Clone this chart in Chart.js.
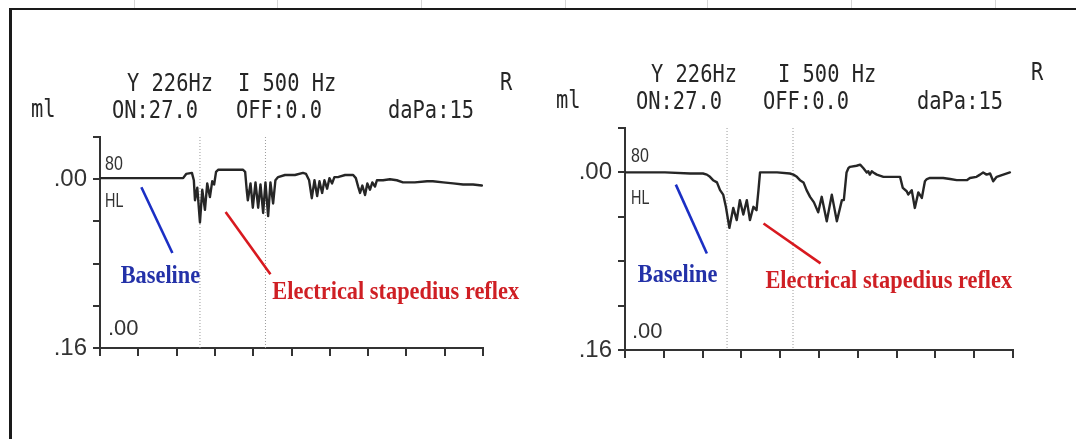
<!DOCTYPE html>
<html>
<head>
<meta charset="utf-8">
<script src="https://cdn.jsdelivr.net/npm/chart.js@4.4.1/dist/chart.umd.min.js"></script>
<style>
  html, body { margin: 0; padding: 0; background: #fff; }
  #page { position: relative; width: 1076px; height: 439px; overflow: hidden; background: #fff; }
  #page canvas { position: absolute; left: 0; top: 0; }
  .frame { position: absolute; left: 9px; top: 8px; width: 1100px; height: 470px;
           border-top: 2px solid #1a1a1a; border-left: 3px solid #1a1a1a; }
  .scan { position: absolute; top: 0; width: 1px; height: 8px; background: #d6d6d6; }
</style>
</head>
<body>
<div id="page">
  <div class="frame"></div>
  <div class="scan" style="left:134px"></div>
  <div class="scan" style="left:277px"></div>
  <div class="scan" style="left:421px"></div>
  <div class="scan" style="left:565px"></div>
  <div class="scan" style="left:707px"></div>
  <div class="scan" style="left:851px"></div>
  <div class="scan" style="left:995px"></div>
  <canvas id="leftChart" width="1076" height="439"></canvas>
  <canvas id="rightChart" width="1076" height="439"></canvas>
</div>
<script>
// eje x: 10 divisiones de tiempo, eje y: compliancia en ml (.00 arriba, .16 abajo)
const xTicks = [0, 1, 2, 3, 4, 5, 6, 7, 8, 9, 10];
const yTicks = [-0.04, 0, 0.04, 0.08, 0.12, 0.16];
const yTickLabels = ['', '.00', '', '', '', '.16'];

const headerTexts = ['Y 226Hz', 'I 500 Hz', 'R', 'ml', 'ON:27.0', 'OFF:0.0', 'daPa:15'];
const innerTexts = ['80', 'HL', '.00'];
const baselineText = 'Baseline';
const reflexText = 'Electrical stapedius reflex';

// panel izquierdo
const leftTime = [0, 2.17, 2.25, 2.40, 2.45, 2.48, 2.54, 2.61, 2.67, 2.74, 2.80, 2.87, 2.93, 2.98, 3.03,
  3.09, 3.73, 3.79, 3.83, 3.86, 3.93, 3.99, 4.06, 4.13, 4.19, 4.26, 4.32, 4.39, 4.45, 4.52, 4.58, 4.65, 4.83,
  5.09, 5.30, 5.38, 5.46, 5.53, 5.60, 5.67, 5.73, 5.80, 5.86, 5.93, 5.99, 6.06, 6.12, 6.21, 6.40, 6.61, 6.68,
  6.74, 6.79, 6.85, 6.92, 6.98, 7.05, 7.11, 7.18, 7.23, 7.39, 7.57, 7.75, 7.91, 8.22, 8.54, 8.69, 8.96, 9.22,
  9.48, 9.74, 9.97];
const leftCompliance = [-0.001, -0.001, -0.005, -0.006, 0.001, 0.020, 0.008, 0.041, 0.010, 0.029, 0.004,
  0.017, 0.002, 0.005, -0.007, -0.009, -0.009, -0.007, 0.010, 0.020, 0.004, 0.027, 0.003, 0.027, 0.005, 0.032,
  0.003, 0.035, 0.003, 0.023, 0.001, -0.002, -0.004, -0.004, -0.006, -0.005, 0.001, 0.018, 0.001, 0.016, 0.002,
  0.013, 0.001, 0.009, -0.001, 0.004, -0.002, -0.002, -0.004, -0.004, -0.001, 0.007, 0.013, 0.006, 0.015,
  0.004, 0.010, 0.003, 0.007, 0.001, 0.001, 0.000, 0.001, 0.003, 0.003, 0.002, 0.002, 0.003, 0.004, 0.005,
  0.005, 0.006];
const leftStim = [2.61, 4.32];

// panel derecho
const rightTime = [0, 1.03, 1.68, 2.01, 2.11, 2.19, 2.27, 2.37, 2.45, 2.53, 2.60, 2.69, 2.79, 2.88, 2.96,
  3.05, 3.14, 3.22, 3.31, 3.39, 3.44, 3.48, 3.92, 4.25, 4.34, 4.43, 4.51, 4.60, 4.68, 4.77, 4.87, 4.98, 5.07,
  5.20, 5.33, 5.46, 5.59, 5.64, 5.71, 5.76, 5.80, 5.97, 6.06, 6.14, 6.23, 6.27, 6.31, 6.36, 6.40, 6.49, 6.66,
  7.09, 7.16, 7.26, 7.30, 7.39, 7.47, 7.56, 7.65, 7.73, 7.78, 7.86, 8.20, 8.38, 8.55, 8.81, 8.89, 9.06, 9.15,
  9.23, 9.32, 9.41, 9.49, 9.58, 9.75, 9.92];
const rightCompliance = [0.000, 0.000, 0.001, 0.001, 0.002, 0.004, 0.007, 0.009, 0.016, 0.020, 0.031, 0.050,
  0.032, 0.043, 0.025, 0.038, 0.025, 0.043, 0.031, 0.034, 0.016, 0.000, 0.000, 0.001, 0.002, 0.004, 0.007,
  0.009, 0.016, 0.022, 0.027, 0.036, 0.022, 0.044, 0.020, 0.044, 0.025, 0.025, 0.000, -0.004, -0.005, -0.006,
  -0.007, -0.004, 0.000, -0.001, 0.002, -0.001, 0.000, 0.002, 0.004, 0.004, 0.014, 0.017, 0.020, 0.016, 0.032,
  0.018, 0.023, 0.008, 0.006, 0.005, 0.005, 0.006, 0.007, 0.007, 0.005, 0.004, 0.002, 0.000, 0.002, 0.001,
  0.008, 0.004, 0.002, 0.000];
const rightStim = [2.63, 4.33];

// posiciones (px de página) de los textos; anotaciones en unidades de datos
const panels = [
  {
    id: 'leftChart', time: leftTime, comp: leftCompliance, stim: leftStim,
    area: { left: 100, right: 483, top: 137, bottom: 348 },
    header: [[127, 91], [238, 91], [500, 90], [31, 117], [112, 118], [236, 118], [388, 118]],
    inner: [[105, 170], [105, 207], [108, 335]],
    baseLine: [[1.08, 0.0076], [1.89, 0.070]], baseText: [0.54, 0.098],
    reflexLine: [[3.28, 0.031], [4.45, 0.090]], reflexText: [4.50, 0.114]
  },
  {
    id: 'rightChart', time: rightTime, comp: rightCompliance, stim: rightStim,
    area: { left: 625, right: 1013, top: 128, bottom: 350 },
    header: [[651, 82], [778, 82], [1031, 80], [556, 108], [636, 109], [763, 109], [917, 109]],
    inner: [[631, 162], [631, 204], [632, 338]],
    baseLine: [[1.31, 0.011], [2.11, 0.073]], baseText: [0.33, 0.099],
    reflexLine: [[3.57, 0.046], [5.04, 0.082]], reflexText: [3.62, 0.104]
  }
];

function drawText(ctx, str, x, y, font, color, sx) {
  ctx.save();
  ctx.translate(x, y);
  ctx.scale(sx, 1);
  ctx.font = font;
  ctx.fillStyle = color;
  ctx.textAlign = 'left';
  ctx.textBaseline = 'alphabetic';
  ctx.fillText(str, 0, 0);
  ctx.restore();
}

function textPlugin(p) {
  return {
    id: 'paperText',
    afterDatasetsDraw(chart) {
      const ctx = chart.ctx;
      const xs = chart.scales.x, ys = chart.scales.y;
      headerTexts.forEach((t, i) => {
        drawText(ctx, t, p.header[i][0], p.header[i][1], '24px "DejaVu Sans Mono", monospace', '#262626', 0.85);
      });
      innerTexts.forEach((t, i) => {
        const sx = i === 2 ? 1 : (i === 1 ? 0.72 : 0.8);
        const size = i === 2 ? 22 : 20;
        drawText(ctx, t, p.inner[i][0], p.inner[i][1], size + 'px "Liberation Sans", Arial, sans-serif', '#333', sx);
      });
      drawText(ctx, baselineText, xs.getPixelForValue(p.baseText[0]), ys.getPixelForValue(p.baseText[1]),
        'bold 26px "Liberation Serif", "Times New Roman", serif', '#2331a8', 0.86);
      drawText(ctx, reflexText, xs.getPixelForValue(p.reflexText[0]), ys.getPixelForValue(p.reflexText[1]),
        'bold 26px "Liberation Serif", "Times New Roman", serif', '#cf1f24', 0.86);
    }
  };
}

panels.forEach(p => {
  const trace = p.time.map((t, i) => ({ x: t, y: p.comp[i] }));
  const stimLine = v => [{ x: v, y: yTicks[0] }, { x: v, y: yTicks[yTicks.length - 1] }];
  const toPts = arr => arr.map(a => ({ x: a[0], y: a[1] }));

  new Chart(document.getElementById(p.id), {
    type: 'line',
    data: {
      datasets: [
        { data: trace, borderColor: '#262626', borderWidth: 2.4, pointRadius: 0, tension: 0,
          borderJoinStyle: 'round', borderCapStyle: 'round' },
        { data: toPts(p.baseLine), borderColor: '#1b2fc4', borderWidth: 2.6, pointRadius: 0 },
        { data: toPts(p.reflexLine), borderColor: '#d8191f', borderWidth: 2.6, pointRadius: 0 },
        { data: stimLine(p.stim[0]), borderColor: '#9a9a9a', borderWidth: 1, borderDash: [1, 2], pointRadius: 0 },
        { data: stimLine(p.stim[1]), borderColor: '#9a9a9a', borderWidth: 1, borderDash: [1, 2], pointRadius: 0 }
      ]
    },
    options: {
      responsive: false,
      animation: false,
      devicePixelRatio: 1,
      layout: { padding: { top: p.area.top, right: 1076 - p.area.right, bottom: 0, left: 0 } },
      plugins: { legend: { display: false }, tooltip: { enabled: false } },
      scales: {
        x: {
          type: 'linear', min: 0, max: 10,
          afterBuildTicks: s => { s.ticks = xTicks.map(v => ({ value: v })); },
          afterFit: s => { s.height = 439 - p.area.bottom; },
          ticks: { autoSkip: false, maxRotation: 0, callback: () => '' },
          grid: { drawOnChartArea: false, tickLength: 8, color: '#333', lineWidth: 2 },
          border: { color: '#333', width: 2 }
        },
        y: {
          type: 'linear', reverse: true, min: yTicks[0], max: yTicks[yTicks.length - 1],
          afterBuildTicks: s => { s.ticks = yTicks.map(v => ({ value: v })); },
          afterFit: s => { s.width = p.area.left; },
          ticks: {
            autoSkip: false, padding: 6, color: '#333',
            font: { family: '"Liberation Sans", Arial, sans-serif', size: 24 },
            callback: (v, i) => yTickLabels[i]
          },
          grid: { drawOnChartArea: false, tickLength: 7, color: '#333', lineWidth: 2 },
          border: { color: '#333', width: 2 }
        }
      }
    },
    plugins: [textPlugin(p)]
  });
});
</script>
</body>
</html>
